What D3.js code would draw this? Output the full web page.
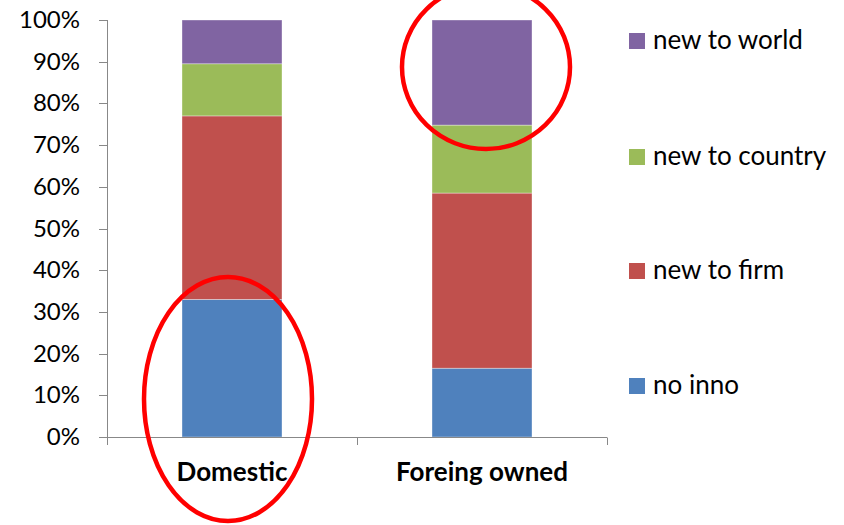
<!DOCTYPE html>
<html><head><meta charset="utf-8">
<script src="https://cdn.jsdelivr.net/npm/d3@7/dist/d3.min.js"></script>
<style>body{margin:0;background:#fff}svg{display:block}text{font-family:Lato,"Open Sans",sans-serif}</style>
</head><body>
<svg id="c" width="844" height="525"></svg>
<script>
const categories = ["Domestic", "Foreing owned"];
const seriesNames = ["no inno", "new to firm", "new to country", "new to world"];
const noInno = [33, 16.5];
const newToFirm = [44, 42];
const newToCountry = [12.5, 16.3];
const newToWorld = [10.5, 25.2];
const yTicks = [0, 10, 20, 30, 40, 50, 60, 70, 80, 90, 100];
const colors = ["#4F81BD", "#C0504D", "#9BBB59", "#8064A2"];

const svg = d3.select("#c");
const x = d3.scaleBand().domain(categories).range([107, 607]).paddingInner(0.6).paddingOuter(0.3);
const y = d3.scaleLinear().domain([0, 100]).range([437, 20]);

const rows = categories.map((c, i) => ({cat: c, "no inno": noInno[i], "new to firm": newToFirm[i], "new to country": newToCountry[i], "new to world": newToWorld[i]}));
const stacked = d3.stack().keys(seriesNames)(rows);

svg.append("g").selectAll("g").data(stacked).join("g")
  .attr("fill", (d, i) => colors[i])
  .selectAll("rect").data(d => d).join("rect")
  .attr("x", d => x(d.data.cat))
  .attr("width", x.bandwidth())
  .attr("y", d => y(Math.min(100, d[1])))
  .attr("height", d => y(d[0]) - y(Math.min(100, d[1])))
  .attr("stroke", "rgba(255,255,255,0.5)").attr("stroke-width", 0.7);

// y axis
const ya = svg.append("g");
ya.append("line").attr("x1", 107.5).attr("x2", 107.5).attr("y1", y(100)).attr("y2", y(0) + 8).attr("stroke", "#888");
ya.selectAll("line.t").data(yTicks).join("line").attr("class", "t")
  .attr("x1", 99).attr("x2", 107.5).attr("y1", d => Math.round(y(d)) + 0.5).attr("y2", d => Math.round(y(d)) + 0.5).attr("stroke", "#888");
ya.selectAll("text").data(yTicks).join("text")
  .attr("x", 80).attr("y", d => y(d) + 8)
  .attr("text-anchor", "end").attr("font-size", 24).attr("fill", "#000")
  .text(d => d + "%");

// x axis
const xa = svg.append("g");
xa.append("line").attr("x1", 99).attr("x2", 607).attr("y1", 437.5).attr("y2", 437.5).attr("stroke", "#888");
const bounds = d3.range(categories.length + 1).map(i => x.range()[0] + i * x.step());
xa.selectAll("line.t").data(bounds).join("line").attr("class", "t")
  .attr("x1", d => Math.round(d) + 0.5).attr("x2", d => Math.round(d) + 0.5).attr("y1", 437.5).attr("y2", 445).attr("stroke", "#888");
xa.selectAll("text").data(categories).join("text")
  .attr("x", d => x(d) + x.bandwidth() / 2).attr("y", 481)
  .attr("text-anchor", "middle").attr("font-size", 26).attr("font-weight", "bold").attr("fill", "#000")
  .text(d => d);

// legend
const legendY = [386, 271, 157, 41];
const lg = svg.append("g").selectAll("g").data(seriesNames).join("g")
  .attr("transform", (d, i) => `translate(629,${legendY[i]})`);
lg.append("rect").attr("x", 0).attr("y", -8).attr("width", 16).attr("height", 16).attr("fill", (d, i) => colors[i]);
lg.append("text").attr("x", 24).attr("y", 8).attr("font-size", 26).attr("fill", "#000").text(d => d);

// annotation ellipses
svg.append("ellipse").attr("cx", 228).attr("cy", 399).attr("rx", 84).attr("ry", 122)
  .attr("fill", "none").attr("stroke", "#FF0000").attr("stroke-width", 4.5);
svg.append("ellipse").attr("cx", 486).attr("cy", 67).attr("rx", 84).attr("ry", 82)
  .attr("fill", "none").attr("stroke", "#FF0000").attr("stroke-width", 4.5);
</script>
</body></html>
